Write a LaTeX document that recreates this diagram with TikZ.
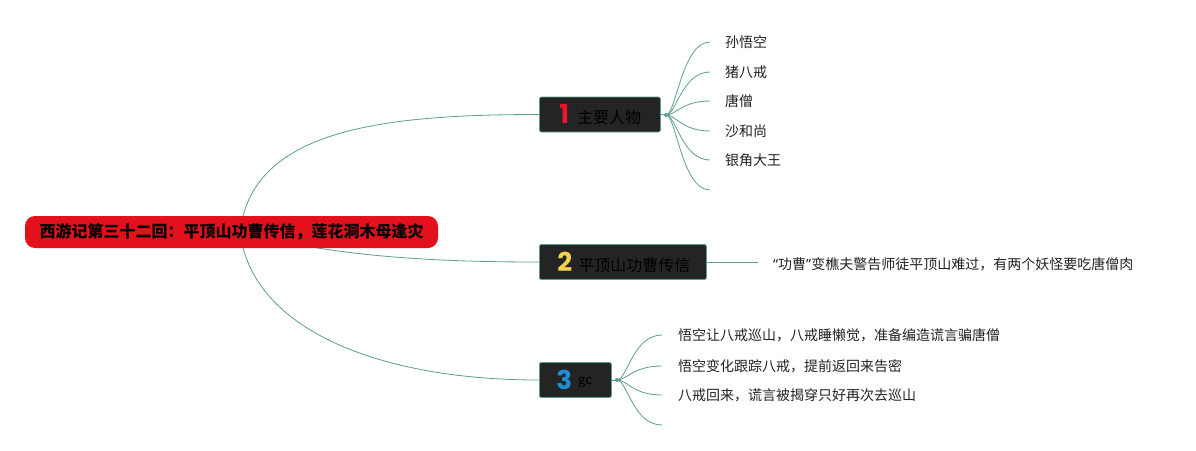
\documentclass[tikz,border=0pt]{standalone}
\usepackage{fontspec}
\setmainfont{Noto Sans CJK SC}
\newfontfamily\numfont{Poppins}
\newfontfamily\latinfont{Noto Sans}
\usetikzlibrary{backgrounds}
\definecolor{edge}{HTML}{5E9E8E}
\definecolor{boxfill}{HTML}{242424}
\definecolor{rootred}{HTML}{E2111B}
\definecolor{numred}{HTML}{E8152B}
\definecolor{numyellow}{HTML}{F4D04E}
\definecolor{numblue}{HTML}{1E8FD6}
\definecolor{leaftext}{HTML}{222222}
\tikzset{
  conn/.style={draw=edge, line width=0.8pt},
  rootbox/.style={fill=rootred, rounded corners=10pt, minimum width=413pt, minimum height=32pt, inner sep=0pt, font=\fontsize{16}{18}\selectfont\bfseries, text=black},
  topicbox/.style={fill=boxfill, draw=edge, line width=0.8pt, rounded corners=2pt, anchor=west, inner xsep=0pt, inner ysep=0pt, minimum height=35pt, align=left, font=\fontsize{16}{18}\selectfont, text=black},
  leaf/.style={anchor=west, inner sep=0pt, font=\fontsize{14}{16}\selectfont, text=leaftext},
}
\newcommand{\bignum}[2]{{\numfont\bfseries\fontsize{26}{26}\selectfont\color{#1}#2}}
\begin{document}
\begin{tikzpicture}[x=1pt,y=-1pt]
\useasboundingbox (0,0) rectangle (1196,450);
% nodes
\node[rootbox] (root) at (231.5,232) {西游记第三十二回：平顶山功曹传信，莲花洞木母逢灾};
\node[topicbox, text width=121pt] (t1) at (539,114.5) {\hspace*{20pt}\bignum{numred}{1}\hspace{8pt}主要人物};
\node[topicbox, text width=167pt] (t2) at (539,262) {\hspace*{18pt}\bignum{numyellow}{2}\hspace{6pt}平顶山功曹传信};
\node[topicbox, text width=72pt] (t3) at (539,380) {\hspace*{17pt}\bignum{numblue}{3}\hspace{6pt}\raisebox{5pt}{\fontsize{13}{13}\selectfont gc}};
% leaves of topic 1
\node[leaf] (a1) at (725,42) {孙悟空};
\node[leaf] (a2) at (725,72) {猪八戒};
\node[leaf] (a3) at (725,101) {唐僧};
\node[leaf] (a4) at (725,131) {沙和尚};
\node[leaf] (a5) at (725,160) {银角大王};
\coordinate (a6) at (710,190);
% leaf of topic 2
\node[leaf] (b1) at (773,264) {{\latinfont “}功曹{\latinfont ”}变樵夫警告师徒平顶山难过，有两个妖怪要吃唐僧肉};
% leaves of topic 3
\node[leaf] (c1) at (678,335) {悟空让八戒巡山，八戒睡懒觉，准备编造谎言骗唐僧};
\node[leaf] (c2) at (678,366) {悟空变化跟踪八戒，提前返回来告密};
\node[leaf] (c3) at (678,395) {八戒回来，谎言被揭穿只好再次去巡山};
\coordinate (c4) at (662,425);
% knobs
\coordinate (k1) at (666,115);
\coordinate (k3) at (617,380);
\coordinate (rc) at (240,232);
\begin{scope}[on background layer]
\fill[white] (0,0) rectangle (1196,450);
\draw[conn] (rc) .. controls (252,130) and (380,114.5) .. (t1.west);
\draw[conn] (rc) .. controls (330,255) and (420,262) .. (t2.west);
\draw[conn] (rc) .. controls (252,330) and (380,380) .. (t3.west);
\draw[conn] (t1.east) -- (k1);
\draw[conn] (t3.east) -- (k3);
\foreach \n/\yy in {a1/42,a2/72,a3/101,a4/131,a5/160}{
  \draw[conn] (k1) .. controls (676,115) and (682,\yy) .. ([xshift=-15pt]\n.west);
}
\draw[conn] (k1) .. controls (676,115) and (682,190) .. (a6);
\draw[conn] (t2.east) -- ([xshift=-15pt]b1.west |- t2.east);
\foreach \n/\yy in {c1/335,c2/366,c3/395}{
  \draw[conn] (k3) .. controls (627,380) and (633,\yy) .. ([xshift=-16pt]\n.west);
}
\draw[conn] (k3) .. controls (627,380) and (633,425) .. (c4);
\end{scope}
\fill[edge] (k1) circle (2pt);
\fill[edge] (k3) circle (2pt);
\end{tikzpicture}
\end{document}
